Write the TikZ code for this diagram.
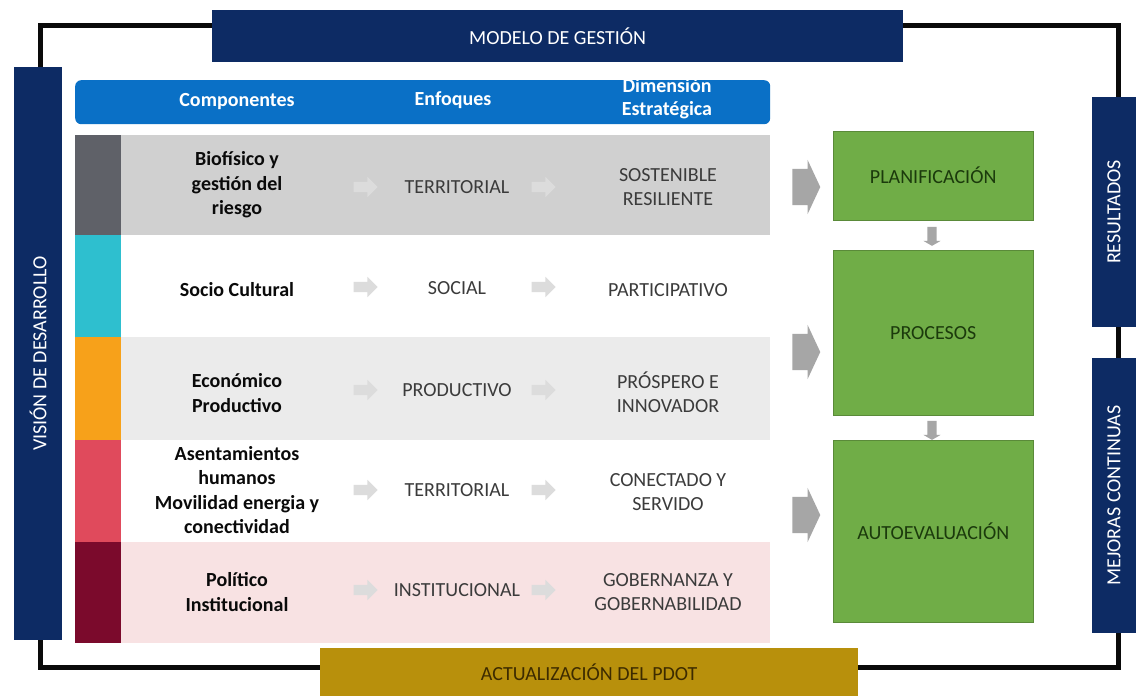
\documentclass[tikz,border=0pt]{standalone}
\usepackage{fontspec}
\setmainfont{Carlito}
\usepackage{xcolor}
\usepackage{tikz}
\usetikzlibrary{shapes.arrows,positioning,backgrounds}
\definecolor{inkK}{HTML}{0A0A0A}
\definecolor{cNavy}{HTML}{0D2B64}
\definecolor{cBlue}{HTML}{0A70C6}
\definecolor{cGreen}{HTML}{70AD47}
\definecolor{dGreen}{HTML}{1B3A0C}
\definecolor{cGold}{HTML}{B8900C}
\definecolor{dGold}{HTML}{3D2B00}
\definecolor{txGray}{HTML}{3B3B3B}
\definecolor{arrL}{HTML}{DCDCDC}
\definecolor{arrD}{HTML}{A6A6A6}
\definecolor{bandA}{HTML}{D0D0D0}
\definecolor{bandC}{HTML}{EBEBEB}
\definecolor{bandE}{HTML}{F8E2E3}
\definecolor{stripA}{HTML}{5F6168}
\definecolor{stripB}{HTML}{2EBFCF}
\definecolor{stripC}{HTML}{F7A11A}
\definecolor{stripD}{HTML}{E04A5C}
\definecolor{stripE}{HTML}{7B0A2C}

\tikzset{
  txt/.style={font=\fontsize{20}{24.5}\selectfont, align=center, inner sep=0pt},
  navybox/.style={txt, fill=cNavy, text=white},
  band/.style={minimum width=695pt, anchor=north west, inner sep=0pt},
  strip/.style={minimum width=46pt, anchor=north west, inner sep=0pt},
  comptxt/.style={txt, font=\fontsize{20}{24.5}\selectfont\bfseries, text=inkK},
  plaintxt/.style={txt, text=txGray},
  headtxt/.style={txt, font=\fontsize{20}{23}\selectfont\bfseries, text=white},
  greenbox/.style={txt, fill=cGreen, draw=cGreen!80!black, text=dGreen,
                   minimum width=200pt, anchor=north west},
  smallarr/.style={single arrow, fill=arrL, inner xsep=0pt, inner ysep=5pt,
                   minimum height=24pt, single arrow head extend=5pt},
  bigarr/.style={single arrow, fill=arrD, inner xsep=0pt, inner ysep=18pt,
                 minimum height=28pt, single arrow head extend=9pt,
                 single arrow tip angle=130},
  downarr/.style={single arrow, fill=arrD, inner xsep=0pt, inner ysep=4.5pt,
                  minimum height=19pt, single arrow head extend=4pt,
                  single arrow tip angle=120, rotate=-90}
}

\begin{document}
\begin{tikzpicture}[x=1pt,y=-1pt]
  \useasboundingbox[fill=white] (0,0) rectangle (1136,696);

  % frame behind everything
  \coordinate (fa) at (40,25);
  \coordinate (fb) at (1118,667);
  \draw[line width=5pt, inkK] (fa) rectangle (fb);

  % outer boxes
  \node[navybox, minimum width=691pt, minimum height=52pt, anchor=north west]
    (modelo) at (212,10) {MODELO DE GESTIÓN};
  \node[navybox, minimum width=573pt, minimum height=48pt, rotate=90]
    (vision) at (38,353.5) {VISIÓN DE DESARROLLO};
  \node[navybox, minimum width=230pt, minimum height=44pt, rotate=90]
    (result) at (1114,212) {RESULTADOS};
  \node[navybox, minimum width=275pt, minimum height=44pt, rotate=90]
    (mejoras) at (1114,495.5) {MEJORAS CONTINUAS};
  \node[txt, fill=cGold, text=dGold, minimum width=538pt, minimum height=48pt,
        anchor=north west] (pdot) at (320,648) {ACTUALIZACIÓN DEL PDOT};

  % table header
  \node[fill=cBlue, rounded corners=6pt, minimum width=695pt, minimum height=44pt,
        anchor=north west, inner sep=0pt] (head) at (75,80) {};
  \node[headtxt] (hcomp) at (237,102) {Componentes};
  \node[headtxt] (henf) at (453,100) {Enfoques};
  \node[headtxt] (hdim) at (667,99) {Dimensión\\Estratégica};

  % bands and strips
  \node[band, fill=bandA, minimum height=100pt] (r1) at (75,135) {};
  \node[band, fill=white, minimum height=102pt] (r2) at (75,235) {};
  \node[band, fill=bandC, minimum height=103pt] (r3) at (75,337) {};
  \node[band, fill=white, minimum height=102pt] (r4) at (75,440) {};
  \node[band, fill=bandE, minimum height=101pt] (r5) at (75,542) {};
  \node[strip, fill=stripA, minimum height=100pt] (s1) at (75,135) {};
  \node[strip, fill=stripB, minimum height=102pt] (s2) at (75,235) {};
  \node[strip, fill=stripC, minimum height=103pt] (s3) at (75,337) {};
  \node[strip, fill=stripD, minimum height=102pt] (s4) at (75,440) {};
  \node[strip, fill=stripE, minimum height=101pt] (s5) at (75,542) {};

  % row texts
  \node[comptxt] (c1) at (237,185) {Biofísico y\\gestión del\\riesgo};
  \node[comptxt] (c2) at (237,290) {Socio Cultural};
  \node[comptxt] (c3) at (237,393) {Económico\\Productivo};
  \node[comptxt] (c4) at (237,490) {Asentamientos\\humanos\\Movilidad energia y\\conectividad};
  \node[comptxt] (c5) at (237,592) {Político\\Institucional};

  \node[plaintxt] (e1) at (457,187) {TERRITORIAL};
  \node[plaintxt] (e2) at (457,288) {SOCIAL};
  \node[plaintxt] (e3) at (457,390) {PRODUCTIVO};
  \node[plaintxt] (e4) at (457,490) {TERRITORIAL};
  \node[plaintxt] (e5) at (457,590) {INSTITUCIONAL};

  \node[plaintxt] (d1) at (668,187) {SOSTENIBLE\\RESILIENTE};
  \node[plaintxt] (d2) at (668,290) {PARTICIPATIVO};
  \node[plaintxt] (d3) at (668,392) {PRÓSPERO E\\INNOVADOR};
  \node[plaintxt] (d4) at (668,492) {CONECTADO Y\\SERVIDO};
  \node[plaintxt] (d5) at (668,592) {GOBERNANZA Y\\GOBERNABILIDAD};

  % small arrows between columns
  \node[smallarr] (a1) at (363,187) {};
  \node[smallarr] (b1) at (541,187) {};
  \node[smallarr] (a2) at (363,287) {};
  \node[smallarr] (b2) at (541,287) {};
  \node[smallarr] (a3) at (363,390) {};
  \node[smallarr] (b3) at (541,390) {};
  \node[smallarr] (a4) at (363,490) {};
  \node[smallarr] (b4) at (541,490) {};
  \node[smallarr] (a5) at (363,590) {};
  \node[smallarr] (b5) at (541,590) {};

  % management steps
  \node[greenbox, minimum height=89pt] (plan) at (833,131) {PLANIFICACIÓN};
  \node[greenbox, minimum height=165pt] (proc) at (833,250) {PROCESOS};
  \node[greenbox, minimum height=182pt] (auto) at (833,440) {AUTOEVALUACIÓN};

  \node[bigarr] (g1) at (802,187) {};
  \node[bigarr] (g2) at (802,352) {};
  \node[bigarr] (g3) at (802,515) {};

  \node[downarr] (v1) at (932,235) {};
  \node[downarr] (v2) at (932,429) {};
\end{tikzpicture}
\end{document}
